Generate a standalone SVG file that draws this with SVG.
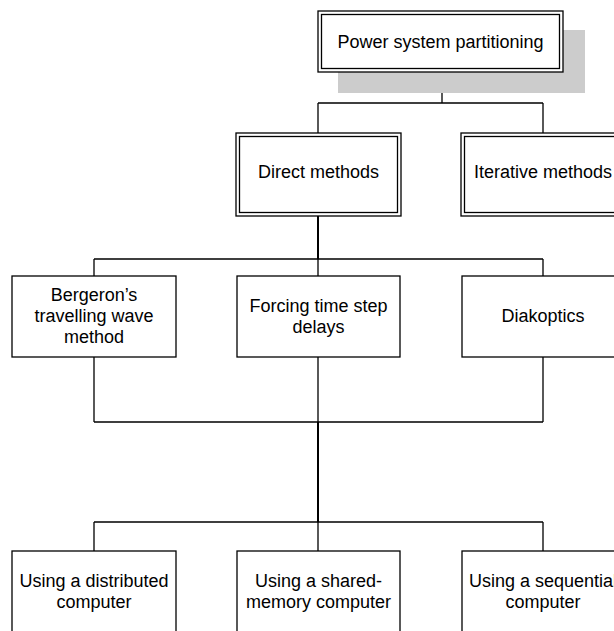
<svg xmlns="http://www.w3.org/2000/svg" width="614" height="631" viewBox="0 0 614 631">
  <style>
    .box { fill: #ffffff; stroke: #000000; stroke-width: 1.3; }
    .inner { fill: none; stroke: #000000; stroke-width: 1.3; }
    .shadow { fill: #cccccc; stroke: none; }
    .wire { fill: none; stroke: #000000; stroke-width: 1.3; }
    .trunk { fill: none; stroke: #000000; stroke-width: 2; }
    text { font-family: "Liberation Sans", Arial, sans-serif; font-size: 18px; fill: #000000; text-anchor: middle; }
  </style>
  <rect width="614" height="631" fill="#ffffff"/>

  <!-- connectors -->
  <g id="connectors">
    <path class="wire" d="M442 72 V103 M318 103 H543 M318 103 V133 M543 103 V133"/>
    <path class="trunk" d="M318 216 V259"/>
    <path class="wire" d="M94 259 H543 M94 259 V276 M318 259 V276 M543 259 V276"/>
    <path class="wire" d="M94 357 V422 M318 357 V422 M543 357 V422 M94 422 H543"/>
    <path class="trunk" d="M318 422 V522"/>
    <path class="wire" d="M94 522 H543 M94 522 V551 M318 522 V551 M543 522 V551"/>
  </g>

  <!-- root -->
  <g id="root">
    <rect class="shadow" x="338" y="30" width="247" height="63"/>
    <rect class="box" x="318" y="11" width="245" height="61"/>
    <rect class="inner" x="321.5" y="14.5" width="238" height="54"/>
    <text x="440.5" y="48">Power system partitioning</text>
  </g>

  <!-- second level -->
  <g id="direct">
    <rect class="box" x="236" y="133" width="165" height="83"/>
    <rect class="inner" x="239.5" y="136.5" width="158" height="76"/>
    <text x="318.5" y="178">Direct methods</text>
  </g>
  <g id="iterative">
    <rect class="box" x="461" y="133" width="165" height="83"/>
    <rect class="inner" x="464.5" y="136.5" width="158" height="76"/>
    <text x="543" y="178">Iterative methods</text>
  </g>

  <!-- third level -->
  <g id="bergeron">
    <rect class="box" x="12" y="276" width="164" height="81"/>
    <text x="94" y="301">Bergeron’s</text>
    <text x="94" y="322">travelling wave</text>
    <text x="94" y="343">method</text>
  </g>
  <g id="forcing">
    <rect class="box" x="237" y="276" width="163" height="81"/>
    <text x="318.5" y="312">Forcing time step</text>
    <text x="318.5" y="333">delays</text>
  </g>
  <g id="diakoptics">
    <rect class="box" x="462" y="276" width="163" height="81"/>
    <text x="543" y="322">Diakoptics</text>
  </g>

  <!-- fourth level -->
  <g id="distributed">
    <rect class="box" x="12" y="551" width="164" height="100"/>
    <text x="94" y="587">Using a distributed</text>
    <text x="94" y="608">computer</text>
  </g>
  <g id="shared">
    <rect class="box" x="237" y="551" width="163" height="100"/>
    <text x="318.5" y="587">Using a shared-</text>
    <text x="318.5" y="608">memory computer</text>
  </g>
  <g id="sequential">
    <rect class="box" x="462" y="551" width="163" height="100"/>
    <text x="543" y="587">Using a sequential</text>
    <text x="543" y="608">computer</text>
  </g>
</svg>
